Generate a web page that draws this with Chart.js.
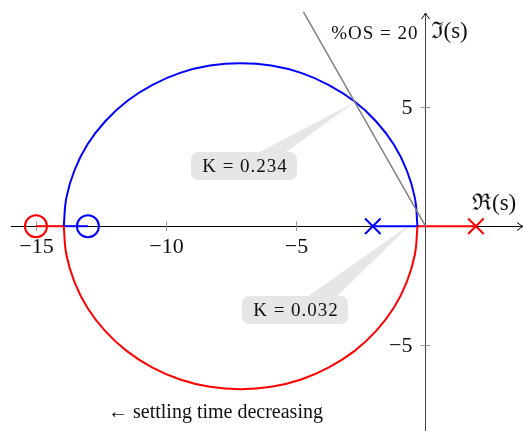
<!DOCTYPE html>
<html>
<head>
<meta charset="utf-8">
<script src="https://cdn.jsdelivr.net/npm/chart.js@4.4.0/dist/chart.umd.min.js"></script>
<style>
html, body { margin: 0; padding: 0; background: #fff; }
#wrap { width: 525px; height: 431px; }
</style>
</head>
<body>
<div id="wrap"><canvas id="locus" width="525" height="431"></canvas></div>
<script>
// root locus, values
var arcRe   = [-0.31, -0.41, -0.72, -1.22, -1.90, -2.74, -3.72, -4.79, -5.94, -7.12,
               -8.30, -9.45, -10.53, -11.50, -12.34, -13.02, -13.52, -13.83, -13.93];
var upperIm = [0, 1.19, 2.34, 3.43, 4.40, 5.25, 5.93, 6.44, 6.75, 6.85,
               6.75, 6.44, 5.93, 5.25, 4.40, 3.43, 2.34, 1.19, 0];
var lowerIm = [0, -1.19, -2.34, -3.43, -4.40, -5.25, -5.93, -6.44, -6.75, -6.85,
               -6.75, -6.44, -5.93, -5.25, -4.40, -3.43, -2.34, -1.19, 0];

var blueAxisRe = [[-13.93, -13.0], [-2.03, -0.31]];
var redAxisRe  = [[-15.0, -13.93], [-0.31, 1.94]];

var bluePoles = [-2.03];
var blueZeros = [-13.0];
var redPoles  = [1.94];
var redZeros  = [-15.0];

var osLineRe = [0, -4.7];
var osLineIm = [0, 9.0];

var xTicks = [-15, -10, -5];
var yTicks = [5, -5];

var gainLabels = ['K = 0.234', 'K = 0.032'];
var gainPoints = [[-2.72, 5.22], [-0.5, 0.15]];

function pts(re, im) {
  return re.map(function(r, i) { return {x: r, y: im[i]}; });
}
function seg(pair) {
  return [{x: pair[0], y: 0}, {x: pair[1], y: 0}];
}
function onAxis(re) {
  return re.map(function(r) { return {x: r, y: 0}; });
}

var lineDs = function(data, color, width) {
  return {data: data, showLine: true, borderColor: color, borderWidth: width,
          pointRadius: 0, tension: 0.4, fill: false};
};
var markDs = function(data, color, style, r) {
  return {data: data, showLine: false, pointStyle: style, pointRadius: r,
          borderColor: color, backgroundColor: 'rgba(0,0,0,0)', pointBorderWidth: 2};
};

var serif = "'Liberation Serif', 'DejaVu Serif', serif";

function arrow(ctx, x, y, dir) {
  ctx.beginPath();
  if (dir === 'right') {
    ctx.moveTo(x - 6, y - 4); ctx.quadraticCurveTo(x - 2, y - 1, x, y);
    ctx.quadraticCurveTo(x - 2, y + 1, x - 6, y + 4);
  } else {
    ctx.moveTo(x - 4, y + 6); ctx.quadraticCurveTo(x - 1, y + 2, x, y);
    ctx.quadraticCurveTo(x + 1, y + 2, x + 4, y + 6);
  }
  ctx.stroke();
}

function callout(ctx, cx, cy, w, h, bl, br, tx, ty, text) {
  ctx.fillStyle = '#e6e6e6';
  ctx.beginPath();
  ctx.moveTo(bl, cy - h / 2 + 3);
  ctx.lineTo(br, cy - h / 2 + 3);
  ctx.lineTo(tx, ty);
  ctx.closePath();
  ctx.fill();
  ctx.beginPath();
  ctx.roundRect(cx - w / 2, cy - h / 2, w, h, 7);
  ctx.fill();
  ctx.fillStyle = '#111';
  ctx.font = '19px ' + serif;
  ctx.letterSpacing = '1px';
  ctx.textAlign = 'center';
  ctx.textBaseline = 'middle';
  ctx.fillText(text, cx + 1, cy + 1);
  ctx.letterSpacing = '0px';
}

var axesPlugin = {
  id: 'axes',
  beforeDatasetsDraw: function(chart) {
    var ctx = chart.ctx, xs = chart.scales.x, ys = chart.scales.y;
    var x0 = xs.getPixelForValue(0), y0 = ys.getPixelForValue(0);
    ctx.save();
    // callouts
    var t1 = gainPoints[0], t2 = gainPoints[1];
    callout(ctx, 244, 166, 106, 28, 254, 282,
            xs.getPixelForValue(t1[0]), ys.getPixelForValue(t1[1]), gainLabels[0]);
    callout(ctx, 295, 310, 106, 28, 304, 334,
            xs.getPixelForValue(t2[0]), ys.getPixelForValue(t2[1]), gainLabels[1]);

    // x axis
    ctx.strokeStyle = '#000';
    ctx.lineWidth = 1;
    ctx.beginPath();
    ctx.moveTo(11, Math.round(y0) + 0.5);
    ctx.lineTo(522, Math.round(y0) + 0.5);
    ctx.stroke();
    arrow(ctx, 523, Math.round(y0) + 0.5, 'right');
    // y axis
    ctx.strokeStyle = '#444';
    ctx.beginPath();
    ctx.moveTo(x0, 431);
    ctx.lineTo(x0, 14);
    ctx.stroke();
    ctx.strokeStyle = '#000';
    arrow(ctx, x0, 13, 'up');

    // ticks
    ctx.strokeStyle = '#9a9a9a';
    ctx.font = '22px ' + serif;
    ctx.fillStyle = '#111';
    xTicks.forEach(function(v) {
      var px = Math.round(xs.getPixelForValue(v)) + 0.5;
      ctx.beginPath(); ctx.moveTo(px, y0 - 5); ctx.lineTo(px, y0 + 5); ctx.stroke();
      ctx.textAlign = 'center'; ctx.textBaseline = 'middle';
      ctx.fillText('\u2212' + Math.abs(v), px, y0 + 21);
    });
    yTicks.forEach(function(v) {
      var py = Math.round(ys.getPixelForValue(v)) + 0.5;
      ctx.beginPath(); ctx.moveTo(x0 - 5, py); ctx.lineTo(x0 + 5, py); ctx.stroke();
      ctx.textAlign = 'right'; ctx.textBaseline = 'middle';
      ctx.fillText((v < 0 ? '\u2212' : '') + Math.abs(v), x0 - 13, py + 1);
    });
    ctx.restore();
  },
  afterDatasetsDraw: function(chart) {
    var ctx = chart.ctx, xs = chart.scales.x, ys = chart.scales.y;
    var x0 = xs.getPixelForValue(0), y0 = ys.getPixelForValue(0);
    ctx.save();
    ctx.fillStyle = '#111';
    ctx.textBaseline = 'middle';
    ctx.font = '19px ' + serif;
    ctx.letterSpacing = '1px';
    ctx.textAlign = 'right';
    ctx.fillText('%OS = 20', x0 - 7, 34);
    ctx.letterSpacing = '0px';
    ctx.font = '23px ' + serif;
    ctx.textAlign = 'left';
    ctx.fillText('\u2111(s)', x0 + 5, 32);
    ctx.fillText('\u211C(s)', 472, y0 - 22);
    ctx.font = '20px ' + serif;
    ctx.fillText('\u2190 settling time decreasing', 108, 413);
    ctx.restore();
  }
};

new Chart(document.getElementById('locus'), {
  type: 'scatter',
  data: {
    datasets: [
      lineDs(pts(osLineRe, osLineIm), '#808080', 1.5),
      lineDs(pts(arcRe, upperIm), '#0000ff', 2),
      lineDs(pts(arcRe, lowerIm), '#ff0000', 2),
      lineDs(seg(blueAxisRe[0]), '#0000ff', 2),
      lineDs(seg(blueAxisRe[1]), '#0000ff', 2),
      lineDs(seg(redAxisRe[0]), '#ff0000', 2),
      lineDs(seg(redAxisRe[1]), '#ff0000', 2),
      markDs(onAxis(bluePoles), '#0000ff', 'crossRot', 11),
      markDs(onAxis(redPoles), '#ff0000', 'crossRot', 11),
      markDs(onAxis(blueZeros), '#0000ff', 'circle', 11),
      markDs(onAxis(redZeros), '#ff0000', 'circle', 11)
    ]
  },
  options: {
    responsive: false,
    animation: false,
    layout: { padding: 0, autoPadding: false },
    plugins: { legend: { display: false }, tooltip: { enabled: false } },
    scales: {
      x: { type: 'linear', min: -16.385, max: 3.831, display: false },
      y: { type: 'linear', min: -8.605, max: 9.504, display: false }
    }
  },
  plugins: [axesPlugin]
});
</script>
</body>
</html>
